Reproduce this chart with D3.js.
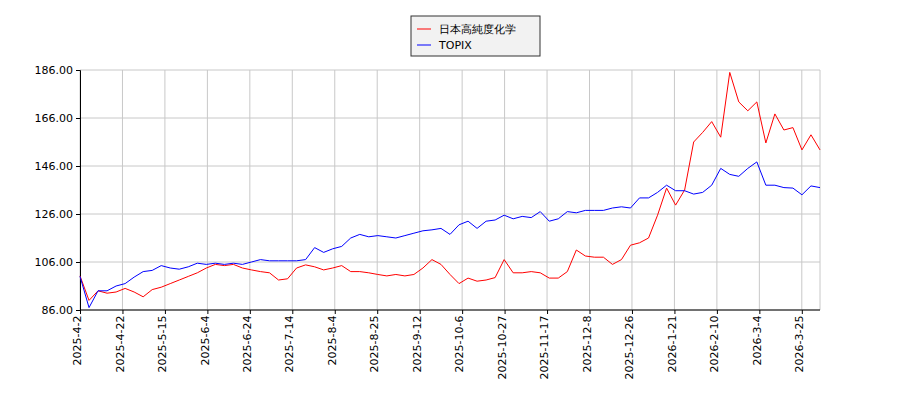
<!DOCTYPE html>
<html>
<head>
<meta charset="utf-8">
<script src="https://cdn.jsdelivr.net/npm/d3@7"></script>
<style>
  body { margin: 0; background: #fff; }
  text { font-family: "DejaVu Sans", sans-serif; }
</style>
</head>
<body>
<div id="chart"></div>
<script>
// tick labels sit every 14 trading days
const tickLabels = ['2025-4-2', '2025-4-22', '2025-5-15', '2025-6-4', '2025-6-24', '2025-7-14',
  '2025-8-4', '2025-8-25', '2025-9-12', '2025-10-6', '2025-10-27', '2025-11-17', '2025-12-8',
  '2025-12-26', '2026-1-21', '2026-2-10', '2026-3-4', '2026-3-25']
const tickStep = 14
const dayCount = 245

// one value read roughly every 3 trading days, spread over the whole period
const stockValues = [100.2, 90, 94, 93, 93.5, 95, 93.5, 91.5, 94.5, 95.5, 97, 98.5, 100, 101.5,
  103.5, 105, 104.5, 105, 103.5, 102.7, 102, 101.5, 98.5, 99, 103.5, 104.8, 104, 102.7, 103.5,
  104.5, 102, 102, 101.5, 100.8, 100.2, 100.8, 100.2, 100.8, 103.5, 107, 105, 100.8, 97, 99.3,
  98, 98.5, 99.5, 107, 101.5, 101.5, 102, 101.5, 99.3, 99.3, 102, 111, 108.5, 108, 108, 105,
  107, 113, 114, 116, 125.5, 136.8, 129.7, 136, 156, 160, 164.5, 158, 185, 172.7, 169, 172.7,
  155.6, 167.7, 161, 162, 152.7, 159, 152.7]
const topixValues = [100, 87, 94, 94, 96, 97, 99.7, 102, 102.5, 104.5, 103.5, 103, 104, 105.5,
  105, 105.5, 105, 105.5, 105, 106, 107, 106.5, 106.5, 106.5, 106.5, 107, 112, 110, 111.5,
  112.5, 116, 117.5, 116.5, 117, 116.5, 116, 117, 118, 119, 119.4, 120, 117.5, 121.5, 123, 120,
  123, 123.5, 125.5, 124, 125, 124.5, 127, 123, 124, 127, 126.5, 127.5, 127.5, 127.5, 128.5,
  129, 128.5, 132.7, 132.7, 135, 138, 135.7, 135.7, 134.3, 135, 138, 145, 142.5, 141.7, 145,
  147.7, 138, 138, 137, 136.8, 134, 137.7, 137]
const yTicks = [86, 106, 126, 146, 166, 186]
const seriesNames = ['日本高純度化学', 'TOPIX']
const seriesColors = ['#ff0000', '#0000ff']

const width = 900
const height = 400
const plot = {left: 80, right: 820, top: 70, bottom: 310}

const svg = d3.select('#chart').append('svg')
  .attr('width', width)
  .attr('height', height)

const x = d3.scaleLinear().domain([0, dayCount - 1]).range([plot.left, plot.right])
const y = d3.scaleLinear().domain([86, 186]).range([plot.bottom, plot.top])

const tickIdx = tickLabels.map((d, i) => i * tickStep)

// grid
svg.append('g').selectAll('line.v').data(tickIdx).join('line')
  .attr('x1', d => x(d)).attr('x2', d => x(d))
  .attr('y1', plot.top).attr('y2', plot.bottom)
  .attr('stroke', '#c8c8c8')
svg.append('g').selectAll('line.h').data(yTicks).join('line')
  .attr('x1', plot.left).attr('x2', plot.right)
  .attr('y1', d => y(d)).attr('y2', d => y(d))
  .attr('stroke', '#c8c8c8')
svg.append('line')
  .attr('x1', plot.right).attr('x2', plot.right)
  .attr('y1', plot.top).attr('y2', plot.bottom)
  .attr('stroke', '#c8c8c8')

// axes
const yAxis = svg.append('g')
  .attr('transform', `translate(${plot.left},0)`)
  .call(d3.axisLeft(y).tickValues(yTicks).tickFormat(d3.format('.2f')).tickSize(4))
yAxis.selectAll('text').attr('font-size', 11).attr('fill', '#000')
yAxis.selectAll('line, path').attr('stroke', '#000')

const xAxis = svg.append('g')
  .attr('transform', `translate(0,${plot.bottom})`)
  .call(d3.axisBottom(x).tickValues(tickIdx).tickFormat((d, i) => tickLabels[i]).tickSize(4).tickSizeOuter(0))
xAxis.selectAll('text')
  .attr('font-size', 11).attr('fill', '#000')
  .attr('transform', 'rotate(-90)')
  .attr('text-anchor', 'end')
  .attr('dx', '-0.5em').attr('dy', '-0.3em')
  .attr('x', 0).attr('y', 4)
xAxis.selectAll('line, path').attr('stroke', '#000')
xAxis.select('.domain').attr('d', `M${plot.left},0H${plot.right}`)

// series
const drawLine = (vals, color) => {
  const step = (dayCount - 1) / (vals.length - 1)
  const line = d3.line()
    .x((d, i) => x(i * step))
    .y(d => y(d))
  svg.append('path')
    .datum(vals)
    .attr('d', line)
    .attr('fill', 'none')
    .attr('stroke', color)
    .attr('stroke-width', 1)
}
drawLine(stockValues, seriesColors[0])
drawLine(topixValues, seriesColors[1])

// legend
const legend = svg.append('g').attr('transform', 'translate(411,16)')
legend.append('rect')
  .attr('width', 129).attr('height', 40)
  .attr('fill', '#f2f2f2').attr('stroke', '#333')
seriesNames.forEach((name, i) => {
  const row = legend.append('g').attr('transform', `translate(6,${13 + i * 16})`)
  row.append('line').attr('x1', 0).attr('x2', 14)
    .attr('stroke', seriesColors[i]).attr('stroke-width', 1)
  row.append('text').attr('x', 22).attr('y', 4)
    .attr('font-size', 11).text(name)
})
</script>
</body>
</html>
